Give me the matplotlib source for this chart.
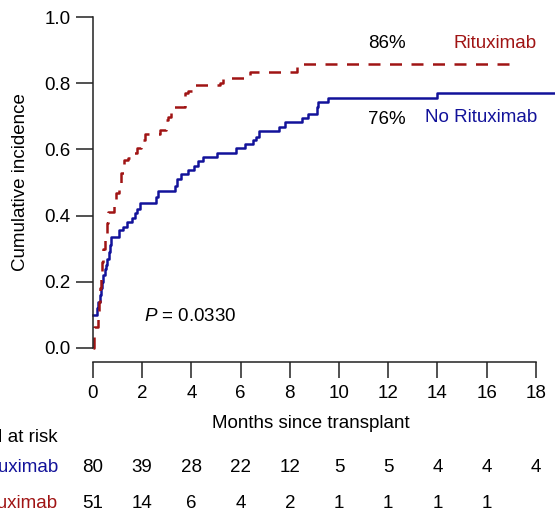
import numpy as np
import matplotlib
matplotlib.use('Agg')
import matplotlib.pyplot as plt
from matplotlib.transforms import blended_transform_factory

plt.rcParams['font.family'] = ['Liberation Sans', 'DejaVu Sans']
plt.rcParams['mathtext.fontset'] = 'custom'
plt.rcParams['mathtext.it'] = 'Liberation Sans:italic'
plt.rcParams['mathtext.rm'] = 'Liberation Sans'

# No Rituximab: event times (months) and cumulative incidence after each step
t_no = [0, 0.18, 0.22, 0.28, 0.33, 0.38, 0.42, 0.48, 0.53, 0.58, 0.65, 0.70, 0.74,
        1.05, 1.23, 1.37, 1.57, 1.71, 1.80, 1.91, 2.57, 2.63, 3.35, 3.42, 3.58,
        3.87, 4.10, 4.27, 4.47, 5.05, 5.81, 6.18, 6.49, 6.62, 6.76, 7.57, 7.80,
        8.48, 8.75, 9.09, 9.16, 9.57, 13.97, 18.78]
ci_no = [0.10, 0.12, 0.14, 0.16, 0.18, 0.20, 0.22, 0.24, 0.25, 0.27, 0.29, 0.31, 0.336,
         0.356, 0.366, 0.38, 0.392, 0.407, 0.42, 0.437, 0.457, 0.475, 0.49, 0.51, 0.525,
         0.538, 0.55, 0.565, 0.577, 0.59, 0.603, 0.616, 0.628, 0.638, 0.656, 0.669, 0.682,
         0.694, 0.707, 0.729, 0.744, 0.756, 0.770, 0.770]

# Rituximab
t_rit = [0, 0.04, 0.20, 0.26, 0.30, 0.34, 0.38, 0.42, 0.47, 0.55, 0.62, 0.85, 0.95,
         1.05, 1.15, 1.25, 1.42, 1.63, 1.77, 1.96, 2.10, 2.71, 2.98, 3.05, 3.18,
         3.73, 3.86, 4.13, 5.18, 5.30, 6.38, 8.28, 17.28]
ci_rit = [0.0, 0.064, 0.10, 0.14, 0.18, 0.22, 0.26, 0.30, 0.346, 0.377, 0.412, 0.447, 0.467,
          0.497, 0.528, 0.568, 0.573, 0.588, 0.603, 0.628, 0.646, 0.659, 0.689, 0.699, 0.729,
          0.77, 0.775, 0.795, 0.802, 0.815, 0.835, 0.858, 0.858]

risk_months = [0, 2, 4, 6, 8, 10, 12, 14, 16, 18]
risk_no = [80, 39, 28, 22, 12, 5, 5, 4, 4, 4]
risk_rit = [51, 14, 6, 4, 2, 1, 1, 1, 1]

blue = '#12129a'
red = '#a01414'
fs = 13.5

fig = plt.figure(figsize=(5.55, 5.16), dpi=100)
W, H = 555, 516
ax = fig.add_axes([93 / W, (H - 348) / H, 1 - 93 / W, 331 / H])

ax.plot(t_no, ci_no, drawstyle='steps-post', color=blue, lw=1.8, clip_on=False)
ax.plot(t_rit, ci_rit, drawstyle='steps-post', color=red, lw=1.8,
        linestyle=(0, (4.8, 3.8)), clip_on=False)

ax.set_xlim(0, 18.78)
ax.set_ylim(0, 1)
for s in ['top', 'right']:
    ax.spines[s].set_visible(False)
ax.spines['bottom'].set_position(('outward', 10))
ax.spines['bottom'].set_bounds(0, 18)
ax.spines['left'].set_bounds(0, 1)
for s in ['bottom', 'left']:
    ax.spines[s].set_linewidth(1.1)
    ax.spines[s].set_color('#222222')

ax.set_xticks(risk_months)
ax.set_yticks(np.arange(0, 1.01, 0.2))
ax.set_yticklabels(['%.1f' % v for v in np.arange(0, 1.01, 0.2)])
ax.tick_params(axis='x', length=11.5, width=1.1, pad=5, labelsize=fs, color='#222222')
ax.tick_params(axis='y', length=12, width=1.1, pad=4, labelsize=fs, color='#222222')

fig.text(21 / W, (H - 182) / H, 'Cumulative incidence', rotation=90,
         ha='center', va='center', fontsize=fs)

# annotations
ax.text(11.93, 0.921, '86%', ha='center', va='center', fontsize=fs)
ax.text(18.05, 0.921, 'Rituximab', ha='right', va='center', fontsize=fs, color=red)
ax.text(11.93, 0.689, '76%', ha='center', va='center', fontsize=fs)
ax.text(18.05, 0.695, 'No Rituximab', ha='right', va='center', fontsize=fs, color=blue)
ax.text(2.08, 0.094, r'$\it{P}$ = 0.0330', ha='left', va='center', fontsize=fs)

# at-risk table
tr = blended_transform_factory(ax.transData, fig.transFigure)
ax.text(8.86, 1 - 424 / H, 'Months since transplant', transform=tr,
        ha='center', va='center', fontsize=fs, clip_on=False)
ax.text(-1.42, 1 - 437 / H, 'N at risk', transform=tr, ha='right', va='center',
        fontsize=fs, clip_on=False)
ax.text(-1.42, 1 - 467 / H, 'No Rituximab', transform=tr, ha='right', va='center',
        fontsize=fs, color=blue, clip_on=False)
ax.text(-1.42, 1 - 503 / H, 'Rituximab', transform=tr, ha='right', va='center',
        fontsize=fs, color=red, clip_on=False)
for m, n in zip(risk_months, risk_no):
    ax.text(m, 1 - 467 / H, str(n), transform=tr, ha='center', va='center',
            fontsize=fs, clip_on=False)
for m, n in zip(risk_months, risk_rit):
    ax.text(m, 1 - 503 / H, str(n), transform=tr, ha='center', va='center',
            fontsize=fs, clip_on=False)

fig.savefig('out.png', dpi=100)
